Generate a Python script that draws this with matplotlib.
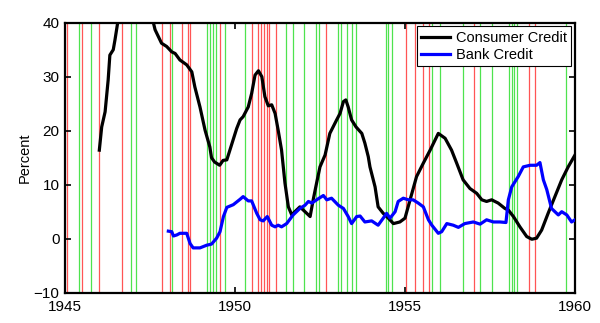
import matplotlib
matplotlib.use("Agg")
import matplotlib.pyplot as plt

plt.rcParams['font.family'] = ['Liberation Sans', 'DejaVu Sans']

# Event dates (decimal years) marked by vertical lines
red_events = [1945.07, 1945.51, 1946.01, 1946.68, 1947.85, 1948.10, 1948.43,
              1948.62, 1948.68, 1949.56, 1950.51, 1950.69, 1950.76, 1950.84,
              1950.93, 1951.01, 1951.21, 1952.69, 1955.02, 1955.28, 1955.54,
              1955.72, 1957.04, 1958.65, 1958.82]
green_events = [1945.41, 1945.76, 1946.93, 1947.10, 1948.16, 1949.18, 1949.26,
                1949.36, 1949.44, 1949.70, 1950.28, 1951.51, 1951.70, 1952.02,
                1952.39, 1952.46, 1953.04, 1953.11, 1953.29, 1953.45, 1953.55,
                1954.43, 1954.51, 1954.62, 1955.79, 1956.04, 1956.71, 1957.21,
                1957.56, 1958.07, 1958.15, 1958.22, 1958.30, 1959.74]

# Consumer credit growth (percent)
consumer_t = [1946.01, 1946.08, 1946.18, 1946.27, 1946.32, 1946.42, 1946.47,
              1946.55, 1946.8, 1947.1, 1947.4, 1947.60, 1947.65, 1947.84,
              1947.99, 1948.14, 1948.24, 1948.38, 1948.58, 1948.73, 1948.82,
              1948.97, 1949.12, 1949.26, 1949.31, 1949.40, 1949.55, 1949.65,
              1949.76, 1949.85, 1950.05, 1950.15, 1950.24, 1950.39, 1950.49,
              1950.59, 1950.69, 1950.79, 1950.88, 1950.98, 1951.08, 1951.18,
              1951.27, 1951.37, 1951.47, 1951.57, 1951.67, 1951.76, 1951.91,
              1952.06, 1952.21, 1952.30, 1952.40, 1952.50, 1952.65, 1952.79,
              1952.99, 1953.09, 1953.19, 1953.26, 1953.33, 1953.43, 1953.56,
              1953.73, 1953.82, 1953.92, 1953.97, 1954.12, 1954.21, 1954.36,
              1954.51, 1954.66, 1954.85, 1955.00, 1955.15, 1955.34, 1955.54,
              1955.74, 1955.98, 1956.18, 1956.37, 1956.52, 1956.71, 1956.91,
              1957.11, 1957.26, 1957.40, 1957.55, 1957.74, 1957.94, 1958.04,
              1958.19, 1958.38, 1958.58, 1958.73, 1958.87, 1959.02, 1959.21,
              1959.41, 1959.61, 1959.80, 1960.00]
consumer_v = [16.4, 20.7, 23.5, 29.4, 34.0, 35.0, 36.8,
              40.0, 46.0, 48.0, 44.0, 40.0, 38.7, 36.2,
              35.6, 34.6, 34.3, 33.1, 32.2, 30.9, 28.1,
              24.4, 20.1, 17.0, 15.0, 14.2, 13.6, 14.5,
              14.6, 16.4, 20.4, 22.0, 22.6, 24.4, 26.9,
              30.3, 31.1, 30.0, 26.3, 24.6, 24.8, 23.2,
              20.1, 16.4, 10.3, 5.9, 4.4, 5.0, 5.9,
              5.0, 4.1, 7.2, 10.3, 13.3, 15.5, 19.5,
              22.0, 23.2, 25.4, 25.7, 24.4, 22.0, 20.7,
              19.5, 17.7, 15.2, 13.3, 9.6, 5.9, 4.7,
              3.8, 2.8, 3.1, 3.8, 7.2, 11.5, 14.0,
              16.4, 19.5, 18.6, 16.4, 14.0, 10.9, 9.3,
              8.4, 7.2, 6.9, 7.2, 6.6, 5.6, 5.3,
              4.1, 2.2, 0.4, -0.1, 0.1, 1.6, 4.7,
              7.8, 10.9, 13.3, 15.5]

# Bank credit growth (percent)
bank_t = [1948.04, 1948.14, 1948.19, 1948.29, 1948.38, 1948.58, 1948.68,
          1948.77, 1948.97, 1949.17, 1949.31, 1949.46, 1949.56, 1949.66,
          1949.76, 1949.95, 1950.15, 1950.24, 1950.39, 1950.49, 1950.64,
          1950.74, 1950.83, 1950.95, 1951.08, 1951.18, 1951.27, 1951.37,
          1951.52, 1951.71, 1951.91, 1952.06, 1952.16, 1952.26, 1952.40,
          1952.60, 1952.70, 1952.84, 1953.04, 1953.19, 1953.33, 1953.43,
          1953.58, 1953.68, 1953.82, 1954.02, 1954.21, 1954.36, 1954.46,
          1954.56, 1954.71, 1954.80, 1954.95, 1955.10, 1955.24, 1955.39,
          1955.54, 1955.69, 1955.79, 1955.98, 1956.08, 1956.23, 1956.42,
          1956.57, 1956.76, 1957.01, 1957.21, 1957.40, 1957.60, 1957.79,
          1957.97, 1958.04, 1958.14, 1958.33, 1958.48, 1958.68, 1958.87,
          1958.97, 1959.07, 1959.17, 1959.31, 1959.51, 1959.61, 1959.76,
          1959.90, 1960.00]
bank_v = [1.4, 1.3, 0.5, 0.7, 1.0, 1.0, -0.9,
          -1.7, -1.7, -1.2, -1.0, 0.1, 1.3, 4.1,
          5.8, 6.3, 7.3, 7.8, 7.0, 7.0, 4.7,
          3.5, 3.3, 4.1, 2.5, 2.2, 2.5, 2.2,
          2.8, 4.4, 5.6, 6.2, 6.9, 6.6, 7.2,
          8.0, 7.2, 7.5, 6.2, 5.6, 4.1, 2.8,
          4.1, 4.2, 3.1, 3.3, 2.5, 3.8, 4.7,
          3.8, 5.0, 6.9, 7.5, 7.2, 7.2, 6.6,
          5.9, 3.5, 2.5, 1.0, 1.3, 2.8, 2.5,
          2.1, 2.8, 3.1, 2.7, 3.5, 3.1, 3.1,
          3.0, 7.2, 9.6, 11.5, 13.3, 13.6, 13.6,
          14.1, 10.9, 9.1, 5.6, 4.4, 5.0, 4.4,
          3.1, 3.5]

x_ticks = [1945, 1950, 1955, 1960]
y_ticks = [-10, 0, 10, 20, 30, 40]

fig = plt.figure(figsize=(6.0, 3.23), dpi=100)
ax = fig.add_axes([0.1083, 0.0938, 0.8500, 0.8359])

for t in red_events:
    ax.axvline(t, color='#ff2a2a', lw=0.9, alpha=0.8, zorder=1)
for t in green_events:
    ax.axvline(t, color='#22dd22', lw=0.9, alpha=0.8, zorder=1)

ax.plot(consumer_t, consumer_v, color='black', lw=2.3, label='Consumer Credit', zorder=3)
ax.plot(bank_t, bank_v, color='#0000ff', lw=2.3, label='Bank Credit', zorder=3)

ax.set_xlim(1945, 1960)
ax.set_ylim(-10, 40)
ax.set_xticks(x_ticks)
ax.set_yticks(y_ticks)
ax.tick_params(direction='in', length=4, width=1.2, top=True, right=True,
               labelsize=11)
ax.tick_params(axis='x', pad=5)
ax.tick_params(axis='y', pad=4)
for s in ax.spines.values():
    s.set_linewidth(1.6)
ax.set_ylabel('Percent', fontsize=10.5, labelpad=1)

leg = ax.legend(loc='upper right', fontsize=10.5, frameon=True, fancybox=False,
                borderaxespad=0.25, handlelength=2.0, handletextpad=0.4,
                borderpad=0.3, labelspacing=0.2)
leg.get_frame().set_edgecolor('black')
leg.get_frame().set_linewidth(0.8)
leg.get_frame().set_alpha(1.0)

fig.savefig('out.png', dpi=100)
